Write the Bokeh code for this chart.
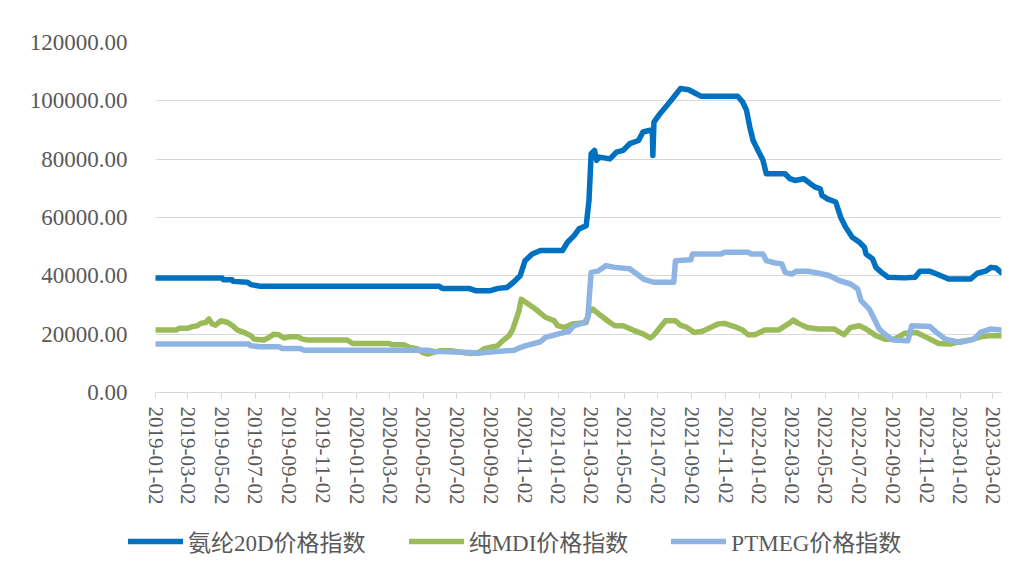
import pandas as pd
from bokeh.plotting import figure
from bokeh.layouts import column
from bokeh.models import (FixedTicker, DatetimeTickFormatter, NumeralTickFormatter,
                          Legend, LegendItem, Range1d)
from bokeh.embed import file_html
from bokeh.resources import INLINE

# ---------------- data ----------------
series_names = ["氨纶20D价格指数", "纯MDI价格指数", "PTMEG价格指数"]

spandex_dates = [
    "2019-01-02", "2019-05-03", "2019-05-05", "2019-05-21", "2019-05-23", "2019-06-18",
    "2019-06-24", "2019-07-12", "2020-05-31", "2020-06-06", "2020-07-24", "2020-08-05",
    "2020-09-01", "2020-09-15", "2020-10-01", "2020-10-13", "2020-10-25", "2020-11-03",
    "2020-11-16", "2020-12-01", "2021-01-10", "2021-01-19", "2021-01-31", "2021-02-09",
    "2021-02-22", "2021-02-27", "2021-03-03", "2021-03-09", "2021-03-13", "2021-03-18",
    "2021-04-06", "2021-04-18", "2021-04-30", "2021-05-12", "2021-05-28", "2021-06-05",
    "2021-06-18", "2021-06-22", "2021-06-23", "2021-06-25", "2021-07-06", "2021-07-19",
    "2021-07-31", "2021-08-12", "2021-08-27", "2021-09-09", "2021-09-18", "2021-11-24",
    "2021-12-03", "2021-12-10", "2021-12-16", "2021-12-22", "2021-12-31", "2022-01-09",
    "2022-01-15", "2022-02-18", "2022-02-27", "2022-03-08", "2022-03-24", "2022-04-05",
    "2022-04-14", "2022-04-23", "2022-04-26", "2022-05-06", "2022-05-21", "2022-05-30",
    "2022-06-08", "2022-06-20", "2022-07-03", "2022-07-12", "2022-07-15", "2022-07-27",
    "2022-08-02", "2022-08-12", "2022-08-24", "2022-09-23", "2022-10-12", "2022-10-21",
    "2022-11-08", "2022-11-27", "2022-12-12", "2023-01-21", "2023-02-02", "2023-02-17",
    "2023-02-27", "2023-03-08", "2023-03-17",
]
spandex_values = [
    39300, 39300, 38700, 38700, 38100, 37800,
    37000, 36400, 36400, 35700, 35700, 34900,
    34900, 35700, 36000, 37800, 40000, 45200,
    47500, 48700, 48700, 51500, 53800, 56100,
    57200, 65800, 81900, 83000, 79600, 80700,
    80100, 82400, 83000, 85300, 86400, 89300,
    89900, 89900, 81300, 92700, 95600, 98500,
    101300, 104200, 103800, 102500, 101600, 101600,
    99600, 96800, 91000, 86400, 83000, 79600,
    75000, 75000, 73300, 72700, 73300, 71600,
    70400, 69800, 67600, 66400, 65300, 60100,
    56700, 53200, 51500, 49800, 47500, 45800,
    42900, 41200, 39500, 39300, 39500, 41600,
    41600, 40100, 38900, 38900, 40900, 41600,
    42900, 42700, 41200,
]

mdi_dates = [
    "2019-01-02", "2019-02-08", "2019-02-14", "2019-03-01", "2019-03-10", "2019-03-19",
    "2019-03-25", "2019-04-03", "2019-04-09", "2019-04-15", "2019-04-21", "2019-05-01",
    "2019-05-13", "2019-05-22", "2019-05-31", "2019-06-12", "2019-06-24", "2019-06-30",
    "2019-07-18", "2019-07-27", "2019-08-05", "2019-08-14", "2019-08-23", "2019-09-02",
    "2019-09-17", "2019-09-26", "2019-10-05", "2019-12-16", "2019-12-26", "2020-03-01",
    "2020-03-07", "2020-03-28", "2020-04-06", "2020-04-22", "2020-05-01", "2020-05-10",
    "2020-05-19", "2020-06-03", "2020-06-21", "2020-07-03", "2020-07-27", "2020-08-11",
    "2020-08-20", "2020-09-02", "2020-09-14", "2020-09-23", "2020-10-05", "2020-10-11",
    "2020-10-17", "2020-10-23", "2020-10-27", "2020-11-22", "2020-12-10", "2020-12-26",
    "2021-01-01", "2021-01-13", "2021-01-28", "2021-02-22", "2021-02-28", "2021-03-06",
    "2021-03-21", "2021-04-06", "2021-04-15", "2021-04-30", "2021-05-18", "2021-06-06",
    "2021-06-18", "2021-06-24", "2021-07-06", "2021-07-16", "2021-08-03", "2021-08-12",
    "2021-08-24", "2021-09-06", "2021-09-21", "2021-10-06", "2021-10-19", "2021-10-31",
    "2021-11-18", "2021-12-03", "2021-12-13", "2021-12-25", "2022-01-12", "2022-02-06",
    "2022-02-24", "2022-03-05", "2022-03-14", "2022-03-30", "2022-04-20", "2022-05-18",
    "2022-06-05", "2022-06-17", "2022-07-03", "2022-07-15", "2022-08-02", "2022-08-18",
    "2022-09-05", "2022-09-23", "2022-10-15", "2022-11-02", "2022-11-24", "2022-12-15",
    "2023-01-02", "2023-01-21", "2023-02-08", "2023-02-27", "2023-03-17",
]
mdi_values = [
    21400, 21400, 22000, 22000, 22600, 22900,
    23700, 24000, 25200, 23500, 23100, 24600,
    24000, 22900, 21400, 20600, 19500, 18300,
    18000, 18900, 20000, 19800, 18700, 19100,
    19100, 18300, 18000, 18000, 16800, 16800,
    16400, 16400, 15500, 14900, 13700, 13200,
    13700, 14300, 14300, 14000, 13400, 13700,
    14900, 15500, 16000, 17700, 19500, 21400,
    24600, 28100, 32000, 28600, 25800, 24600,
    22900, 22300, 23500, 24000, 28100, 28600,
    26300, 24000, 22900, 22900, 21400, 20000,
    18700, 19500, 22300, 24600, 24600, 23100,
    22300, 20600, 21000, 22300, 23500, 23700,
    22600, 21400, 19800, 19800, 21400, 21400,
    23500, 24800, 23700, 22300, 21800, 21800,
    19800, 22300, 22900, 21800, 19500, 18300,
    18300, 20300, 20600, 18900, 16800, 16600,
    17500, 18000, 19100, 19500, 19500,
]

ptmeg_dates = [
    "2019-01-02", "2019-06-21", "2019-06-24", "2019-07-12", "2019-08-14", "2019-08-20",
    "2019-09-20", "2019-09-29", "2020-05-10", "2020-05-22", "2020-07-27", "2020-08-11",
    "2020-08-20", "2020-10-14", "2020-10-23", "2020-11-03", "2020-12-01", "2020-12-10",
    "2021-01-01", "2021-01-22", "2021-01-31", "2021-02-19", "2021-02-25", "2021-02-28",
    "2021-03-03", "2021-03-15", "2021-03-30", "2021-04-15", "2021-05-12", "2021-05-25",
    "2021-06-06", "2021-06-24", "2021-07-31", "2021-08-03", "2021-08-31", "2021-09-03",
    "2021-10-25", "2021-10-31", "2021-12-13", "2021-12-19", "2022-01-09", "2022-01-15",
    "2022-01-31", "2022-02-12", "2022-02-18", "2022-03-02", "2022-03-11", "2022-03-30",
    "2022-04-20", "2022-05-09", "2022-05-27", "2022-06-17", "2022-06-30", "2022-07-06",
    "2022-07-21", "2022-07-30", "2022-08-08", "2022-08-21", "2022-09-02", "2022-09-29",
    "2022-10-06", "2022-11-08", "2022-11-20", "2022-12-06", "2023-01-02", "2023-01-27",
    "2023-02-08", "2023-02-27", "2023-03-17",
]
ptmeg_values = [
    16600, 16600, 16000, 15700, 15700, 15100,
    15100, 14500, 14500, 14100, 13700, 13400,
    13700, 14500, 15200, 16000, 17400, 18900,
    20000, 21000, 22900, 24000, 25800, 33800,
    41200, 41600, 43500, 42900, 42400, 40600,
    38900, 37800, 37800, 45200, 45500, 47500,
    47500, 48100, 48100, 47500, 47500, 45200,
    44400, 44100, 41200, 40600, 41600, 41600,
    40900, 40100, 38400, 37200, 35500, 31500,
    28600, 25200, 21800, 19500, 18000, 17700,
    22900, 22600, 20600, 18300, 17200, 18300,
    20600, 21800, 21400,
]

tick_labels = [
    "2019-01-02", "2019-03-02", "2019-05-02", "2019-07-02", "2019-09-02", "2019-11-02",
    "2020-01-02", "2020-03-02", "2020-05-02", "2020-07-02", "2020-09-02", "2020-11-02",
    "2021-01-02", "2021-03-02", "2021-05-02", "2021-07-02", "2021-09-02", "2021-11-02",
    "2022-01-02", "2022-03-02", "2022-05-02", "2022-07-02", "2022-09-02", "2022-11-02",
    "2023-01-02", "2023-03-02",
]
y_ticks = [0, 20000, 40000, 60000, 80000, 100000, 120000]
x_start, x_end = "2019-01-02", "2023-03-18"

# ---------------- styling ----------------
colors = ["#0070C0", "#9BBB59", "#8EB4E3"]
text_color = "#595959"
grid_color = "#D9D9D9"
serif = "Liberation Serif"
legend_font = "Liberation Serif, Noto Sans CJK SC"


def ms(s):
    return pd.Timestamp(s).value / 1e6


p = figure(
    x_axis_type="datetime",
    frame_width=846, frame_height=350,
    min_border_left=155, min_border_right=16, min_border_top=42, min_border_bottom=120,
    x_range=Range1d(pd.Timestamp(x_start), pd.Timestamp(x_end)),
    y_range=Range1d(0, 120000),
    output_backend="svg", toolbar_location=None,
    background_fill_color="white", border_fill_color="white",
)
p.outline_line_color = None
p.xgrid.visible = False
p.ygrid.grid_line_color = grid_color
p.ygrid.grid_line_width = 1

# y axis
p.yaxis.ticker = FixedTicker(ticks=y_ticks)
p.yaxis.formatter = NumeralTickFormatter(format="0.00")
p.yaxis.axis_line_color = None
p.yaxis.major_tick_line_color = None
p.yaxis.major_tick_out = 0
p.yaxis.major_tick_in = 0
p.yaxis.minor_tick_line_color = None
p.yaxis.major_label_text_font = serif
p.yaxis.major_label_text_font_size = "23px"
p.yaxis.major_label_text_color = text_color
p.yaxis.major_label_standoff = 28

# x axis
p.xaxis.ticker = FixedTicker(ticks=[ms(t) for t in tick_labels])
fmt = "%Y-%m-%d"
p.xaxis.formatter = DatetimeTickFormatter(
    milliseconds=fmt, seconds=fmt, minsec=fmt, minutes=fmt, hourmin=fmt, hours=fmt,
    days=fmt, months=fmt, years=fmt, context=None)
p.xaxis.major_label_overrides = {ms(t): t for t in tick_labels}
p.xaxis.major_label_orientation = "vertical"
p.xaxis.axis_line_color = grid_color
p.xaxis.major_tick_line_color = grid_color
p.xaxis.major_tick_out = 6
p.xaxis.major_tick_in = 0
p.xaxis.minor_tick_line_color = None
p.xaxis.major_label_text_font = serif
p.xaxis.major_label_text_font_size = "21px"
p.xaxis.major_label_text_color = text_color
p.xaxis.major_label_standoff = 8

series = [
    (spandex_dates, spandex_values),
    (mdi_dates, mdi_values),
    (ptmeg_dates, ptmeg_values),
]
for (d, v), c in zip(series, colors):
    p.line(pd.to_datetime(d), v, line_color=c, line_width=5.5,
           line_join="round", line_cap="round")

# ---------------- legend strip below the chart ----------------
# The strip's ranges are tiny, so these copies of the series fall outside its
# frame (invisible); they only provide the legend's line samples.
leg_fig = figure(
    frame_width=1017, frame_height=63, min_border=0,
    x_range=Range1d(0, 1), y_range=Range1d(0, 1),
    x_axis_location=None, y_axis_location=None,
    output_backend="svg", toolbar_location=None,
    background_fill_color="white", border_fill_color="white",
)
leg_fig.outline_line_color = None
leg_fig.grid.visible = False
samples = [leg_fig.line([ms(x) for x in d], v, line_color=c, line_width=5.5,
                        line_cap="round")
           for (d, v), c in zip(series, colors)]

leg = Legend(
    items=[LegendItem(label=n, renderers=[r]) for n, r in zip(series_names, samples)],
    location=(128, 17), orientation="horizontal",
    padding=0, margin=0, spacing=43,
    glyph_width=55, glyph_height=28, label_height=28, label_standoff=5,
    label_text_font=legend_font, label_text_font_size="23px",
    label_text_color=text_color, label_text_baseline="middle",
    border_line_color=None, background_fill_alpha=0,
)
leg_fig.add_layout(leg)

layout = column(p, leg_fig, spacing=0)
open("out.html", "w").write(file_html(layout, INLINE))
